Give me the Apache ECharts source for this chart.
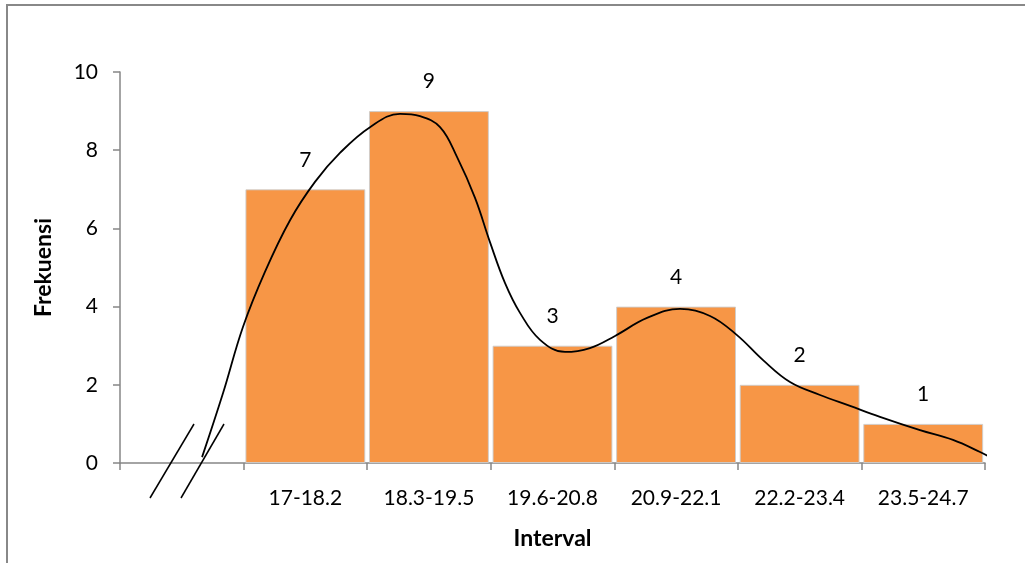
<!DOCTYPE html>
<html>
<head>
<meta charset="utf-8">
<script src="https://cdn.jsdelivr.net/npm/echarts@6/dist/echarts.min.js"></script>
<style>html,body{margin:0;padding:0;background:#fff}#c{width:1025px;height:563px}</style>
</head>
<body>
<div id="c"></div>
<script>
const categories = ['', '17-18.2', '18.3-19.5', '19.6-20.8', '20.9-22.1', '22.2-23.4', '23.5-24.7'];
const frequencies = ['-', 7, 9, 3, 4, 2, 1];
const yTicks = [0, 2, 4, 6, 8, 10];
// freehand curve: x in category units, y in frequency
const curveX = [0.664, 0.834, 0.995, 1.173, 1.376, 1.578, 1.780, 2.023, 2.266, 2.428, 2.590, 2.727, 2.873, 2.994, 3.116, 3.237, 3.399, 3.601, 3.803, 4.006, 4.265, 4.532, 4.775, 4.993, 5.204, 5.422, 5.665, 5.908, 6.150, 6.474, 6.741, 6.960, 7.105];
const curveY = [0.15, 1.79, 3.48, 4.89, 6.21, 7.19, 7.93, 8.59, 8.93, 8.87, 8.59, 7.83, 6.78, 5.65, 4.60, 3.84, 3.15, 2.84, 2.94, 3.25, 3.71, 3.94, 3.76, 3.27, 2.63, 2.07, 1.74, 1.46, 1.18, 0.84, 0.59, 0.28, 0.05];

const FONT = 'Lato, "Open Sans", sans-serif';
const chart = echarts.init(document.getElementById('c'));
chart.setOption({
  animation: false,
  grid: { left: 120, right: 40, top: 72, bottom: 100 },
  xAxis: [{
    type: 'category',
    data: categories,
    boundaryGap: true,
    name: 'Interval',
    nameLocation: 'middle',
    nameGap: 64,
    nameTextStyle: { fontFamily: FONT, fontSize: 23, fontWeight: 'bold', color: '#000' },
    axisLine: { lineStyle: { color: '#868686', width: 1.5 } },
    axisTick: { show: true, length: 7, alignWithLabel: false, lineStyle: { color: '#868686', width: 1.5 } },
    axisLabel: { fontFamily: FONT, fontSize: 21, color: '#000', margin: 25, interval: 0 }
  }, {
    type: 'value',
    min: 0, max: 7,
    show: false
  }],
  yAxis: {
    type: 'value',
    min: 0, max: 10, interval: 2,
    name: 'Frekuensi',
    nameLocation: 'middle',
    nameGap: 65,
    nameRotate: 90,
    nameTextStyle: { fontFamily: FONT, fontSize: 23, fontWeight: 'bold', color: '#000' },
    axisLine: { show: true, lineStyle: { color: '#868686', width: 1.5 } },
    axisTick: { show: true, length: 7, lineStyle: { color: '#868686', width: 1.5 } },
    axisLabel: { fontFamily: FONT, fontSize: 21, color: '#000', margin: 22,
      formatter: v => yTicks.includes(v) ? String(v) : '' },
    splitLine: { show: false }
  },
  series: [{
    type: 'bar',
    data: frequencies,
    xAxisIndex: 0,
    barCategoryGap: '3%',
    itemStyle: { color: '#F79646', borderColor: 'rgba(205,205,205,0.9)', borderWidth: 1 },
    label: { show: true, position: 'top', distance: 19, fontFamily: FONT, fontSize: 21, color: '#000' }
  }, {
    type: 'line',
    xAxisIndex: 1,
    data: curveX.map((x, i) => [x, curveY[i]]),
    smooth: 0.4,
    showSymbol: false,
    symbol: 'none',
    clip: false,
    lineStyle: { color: '#000', width: 1.8 },
    z: 5
  }],
  graphic: [
    { type: 'rect', shape: { x: 7, y: 5, width: 1040, height: 580 }, style: { fill: 'none', stroke: '#888', lineWidth: 2 }, silent: true },
    { type: 'line', shape: { x1: 150, y1: 498, x2: 194, y2: 424 }, style: { stroke: '#000', lineWidth: 1.5 }, z: 10 },
    { type: 'line', shape: { x1: 181, y1: 498, x2: 224, y2: 424 }, style: { stroke: '#000', lineWidth: 1.5 }, z: 10 }
  ]
});
</script>
</body>
</html>
